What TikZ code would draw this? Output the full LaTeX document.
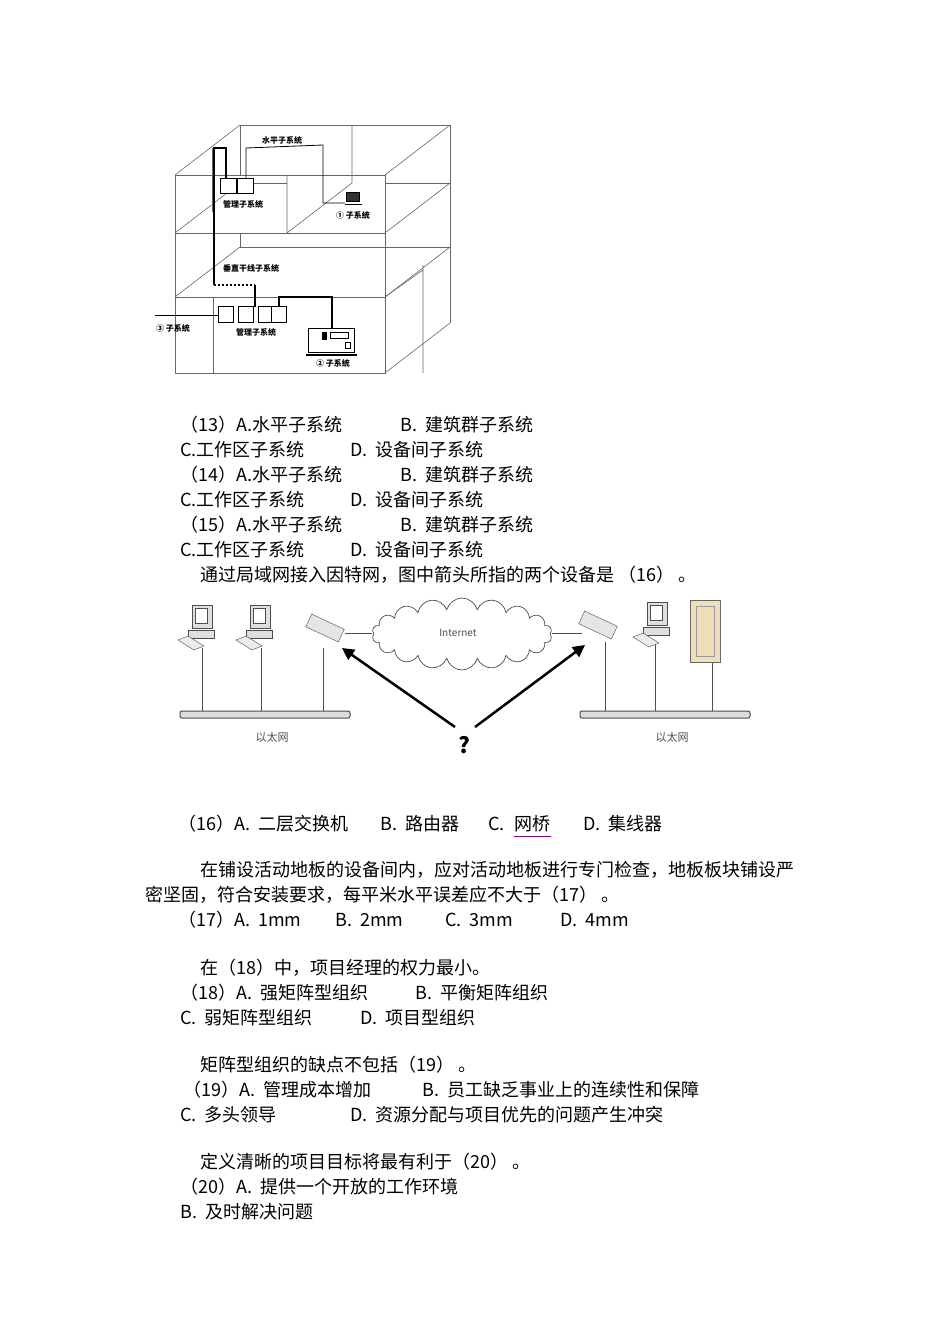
\documentclass[tikz,border=0pt]{standalone}
\usepackage{fontspec}
\setmainfont{Noto Sans CJK SC}
\usetikzlibrary{shapes.symbols,arrows.meta}
\begin{document}
\begin{tikzpicture}[x=1pt,y=-1pt,
  txt/.style={anchor=west,inner sep=0pt,font=\fontsize{18}{18}\selectfont},
  small/.style={inner sep=0pt,font=\fontsize{8}{8}\selectfont\bfseries},
  wall/.style={draw=black!60,line width=0.6pt},
  cab/.style={line width=2pt},
  box/.style={draw,line width=0.6pt,fill=white},
  drop/.style={draw=black!70,line width=0.7pt},
  bus/.style={draw=black!70,fill=blue!8!gray!25,rounded corners=2pt,line width=1pt},
  lab/.style={inner sep=0pt,text=black!70,font=\fontsize{11}{11}\selectfont},
  arr/.style={line width=2.5pt,-{Triangle[length=12pt,width=12pt]}}]
\useasboundingbox (0,0) rectangle (950,1344);
% ---------------- building ----------------
\draw[wall] (175,175) rectangle (385,373);
\draw[wall] (175,233) -- (385,233) (175,297) -- (385,297);
\draw[wall] (240,125) -- (450,125) -- (450,323);
\draw[wall] (240,125) -- (240,175) (240,233) -- (240,247);
\draw[wall] (240,183) -- (287,183) (385,183) -- (450,183);
\draw[wall] (240,247) -- (450,247);
\foreach \y in {175,233,297} {\draw[wall] (175,\y) -- ++(65,-50);}
\foreach \y in {175,233,297,373} {\draw[wall] (385,\y) -- ++(65,-50);}
\draw[wall] (287,175) -- (287,233) -- (352,183) -- (352,125);
\draw[wall] (213,297) -- (213,373);
\draw[wall] (423,265) -- (423,373) (385,297) -- (423,270);
\draw[wall] (212,148) -- (212,212);
% cables
\draw[cab] (226,178) -- (226,148) -- (214,148) -- (214,285);
\draw[cab,dotted] (214,285) -- (255,285);
\draw[cab] (255,285) -- (255,307);
\draw[line width=0.8pt] (246,178) -- (246,148) -- (323,145) -- (323,203) -- (345,203);
\draw[cab] (279,307) -- (279,297) -- (332,297) -- (332,328);
\draw[line width=0.8pt] (155,315) -- (226,315);
% boxes
\node[box,minimum width=16pt,minimum height=15pt,anchor=north west] (m1) at (220,178) {};
\node[box,minimum width=16pt,minimum height=15pt,anchor=north west] (m2) at (237,178) {};
\foreach \i/\x in {1/226,2/246,3/266,4/279} {\node[box,minimum width=15pt,minimum height=16pt] (b\i) at (\x,314) {};}
\node[box,minimum width=46pt,minimum height=24pt,anchor=north west] (dev) at (308,328) {};
\fill (322,332) rectangle (327,340);
\draw (330,332) rectangle (348,338) (345,342) rectangle (350,348);
\draw[line width=1.5pt] (306,355) -- (357,355);
\node[draw,fill=black!80,minimum width=13pt,minimum height=9pt,inner sep=0pt] (pc) at (353,197) {};
\draw[line width=1pt] (345,204) -- (362,204);
\node[small] at (243,204) {管理子系统};
\node[small] at (353,215) {① 子系统};
\node[small] at (282,140) {水平子系统};
\node[small] at (251,268) {垂直干线子系统};
\node[small] at (256,332) {管理子系统};
\node[small] at (173,328) {③ 子系统};
\node[small] at (333,363) {② 子系统};
% ---------------- network ----------------
\node[cloud,draw=black!70,cloud puffs=18,aspect=2.6,minimum width=180pt,minimum height=72pt,line width=0.7pt] (cloud) at (462,634) {};
\node[lab,font=\fontsize{10}{10}\selectfont\rmfamily] at (458,633) {Internet};
\draw[bus] (180,711) rectangle (350,718);
\draw[bus] (580,711) rectangle (750,718);
\node[lab] at (272,737) {以太网};
\node[lab] at (672,737) {以太网};
\foreach \x in {202,261,323} {\draw[drop] (\x,648) -- (\x,711);}
\foreach \x in {605,655,712} {\draw[drop] (\x,642) -- (\x,711);}
\foreach \x/\y in {200/620,258/620,655/617} {
  \draw[fill=gray!25,draw=black!70] (\x-8,\y-15) rectangle (\x+12,\y+8);
  \draw[fill=white,draw=black!70] (\x-5,\y-12) rectangle (\x+7,\y+3);
  \draw[fill=gray!25,draw=black!70] (\x-12,\y+10) -- (\x+14,\y+10) -- (\x+14,\y+18) -- (\x-12,\y+18) -- cycle;
  \draw[fill=gray!15,draw=black!70] (\x-22,\y+20) -- (\x-12,\y+16) -- (\x+4,\y+26) -- (\x-6,\y+30) -- cycle;
}
\foreach \x/\y in {325/628,598/625} {
  \draw[fill=gray!20,draw=black!70,rotate around={-25:(\x,\y)}] (\x-18,\y-7) rectangle (\x+18,\y+7);
}
\draw[fill=yellow!25!brown!35,draw=black!60] (690,600) rectangle (720,662);
\draw[draw=black!40] (696,606) rectangle (714,656);
\draw[drop] (345,633) -- (372,633);
\draw[drop] (552,633) -- (582,633);
\coordinate (q1) at (455,727);
\coordinate (q2) at (475,727);
\coordinate (t1) at (342,648);
\coordinate (t2) at (585,645);
\draw[arr] (q1) -- (t1);
\draw[arr] (q2) -- (t2);
\node[inner sep=0pt,font=\fontsize{22}{22}\selectfont\bfseries] (q) at (464,745) {?};
% ---------------- text ----------------
\foreach \n/\y in {13/425,14/475,15/525} {
  \node[txt] at (180,\y) {（\n）A.水平子系统};
  \node[txt] at (400,\y) {B.\ \ 建筑群子系统};
  \node[txt] at (180,\y+25) {C.工作区子系统};
  \node[txt] at (350,\y+25) {D.\ \ 设备间子系统};
}
\node[txt] at (200,575) {通过局域网接入因特网，图中箭头所指的两个设备是 （16） 。};
\node[txt] at (178,824) {（16）A.\ \ 二层交换机};
\node[txt] at (380,824) {B.\ \ 路由器};
\node[txt] at (488,824) {C.};
\node[txt] (wq) at (514,824) {网桥};
\draw[violet,line width=1pt] (wq.south west) ++(0,4) -- ++(37,0);
\node[txt] at (583,824) {D.\ \ 集线器};
\node[txt] at (200,870) {在铺设活动地板的设备间内，应对活动地板进行专门检查，地板板块铺设严};
\node[txt] at (145,895) {密坚固，符合安装要求，每平米水平误差应不大于（17） 。};
\node[txt] at (178,920) {（17）A.\ \ 1mm};
\node[txt] at (335,920) {B.\ \ 2mm};
\node[txt] at (445,920) {C.\ \ 3mm};
\node[txt] at (560,920) {D.\ \ 4mm};
\node[txt] at (200,968) {在（18）中，项目经理的权力最小。};
\node[txt] at (180,993) {（18）A.\ \ 强矩阵型组织};
\node[txt] at (415,993) {B.\ \ 平衡矩阵组织};
\node[txt] at (180,1018) {C.\ \ 弱矩阵型组织};
\node[txt] at (360,1018) {D.\ \ 项目型组织};
\node[txt] at (200,1065) {矩阵型组织的缺点不包括（19） 。};
\node[txt] at (183,1090) {（19）A.\ \ 管理成本增加};
\node[txt] at (422,1090) {B.\ \ 员工缺乏事业上的连续性和保障};
\node[txt] at (180,1115) {C.\ \ 多头领导};
\node[txt] at (350,1115) {D.\ \ 资源分配与项目优先的问题产生冲突};
\node[txt] at (200,1162) {定义清晰的项目目标将最有利于（20） 。};
\node[txt] at (180,1187) {（20）A.\ \ 提供一个开放的工作环境};
\node[txt] at (180,1212) {B.\ \ 及时解决问题};
\end{tikzpicture}
\end{document}
